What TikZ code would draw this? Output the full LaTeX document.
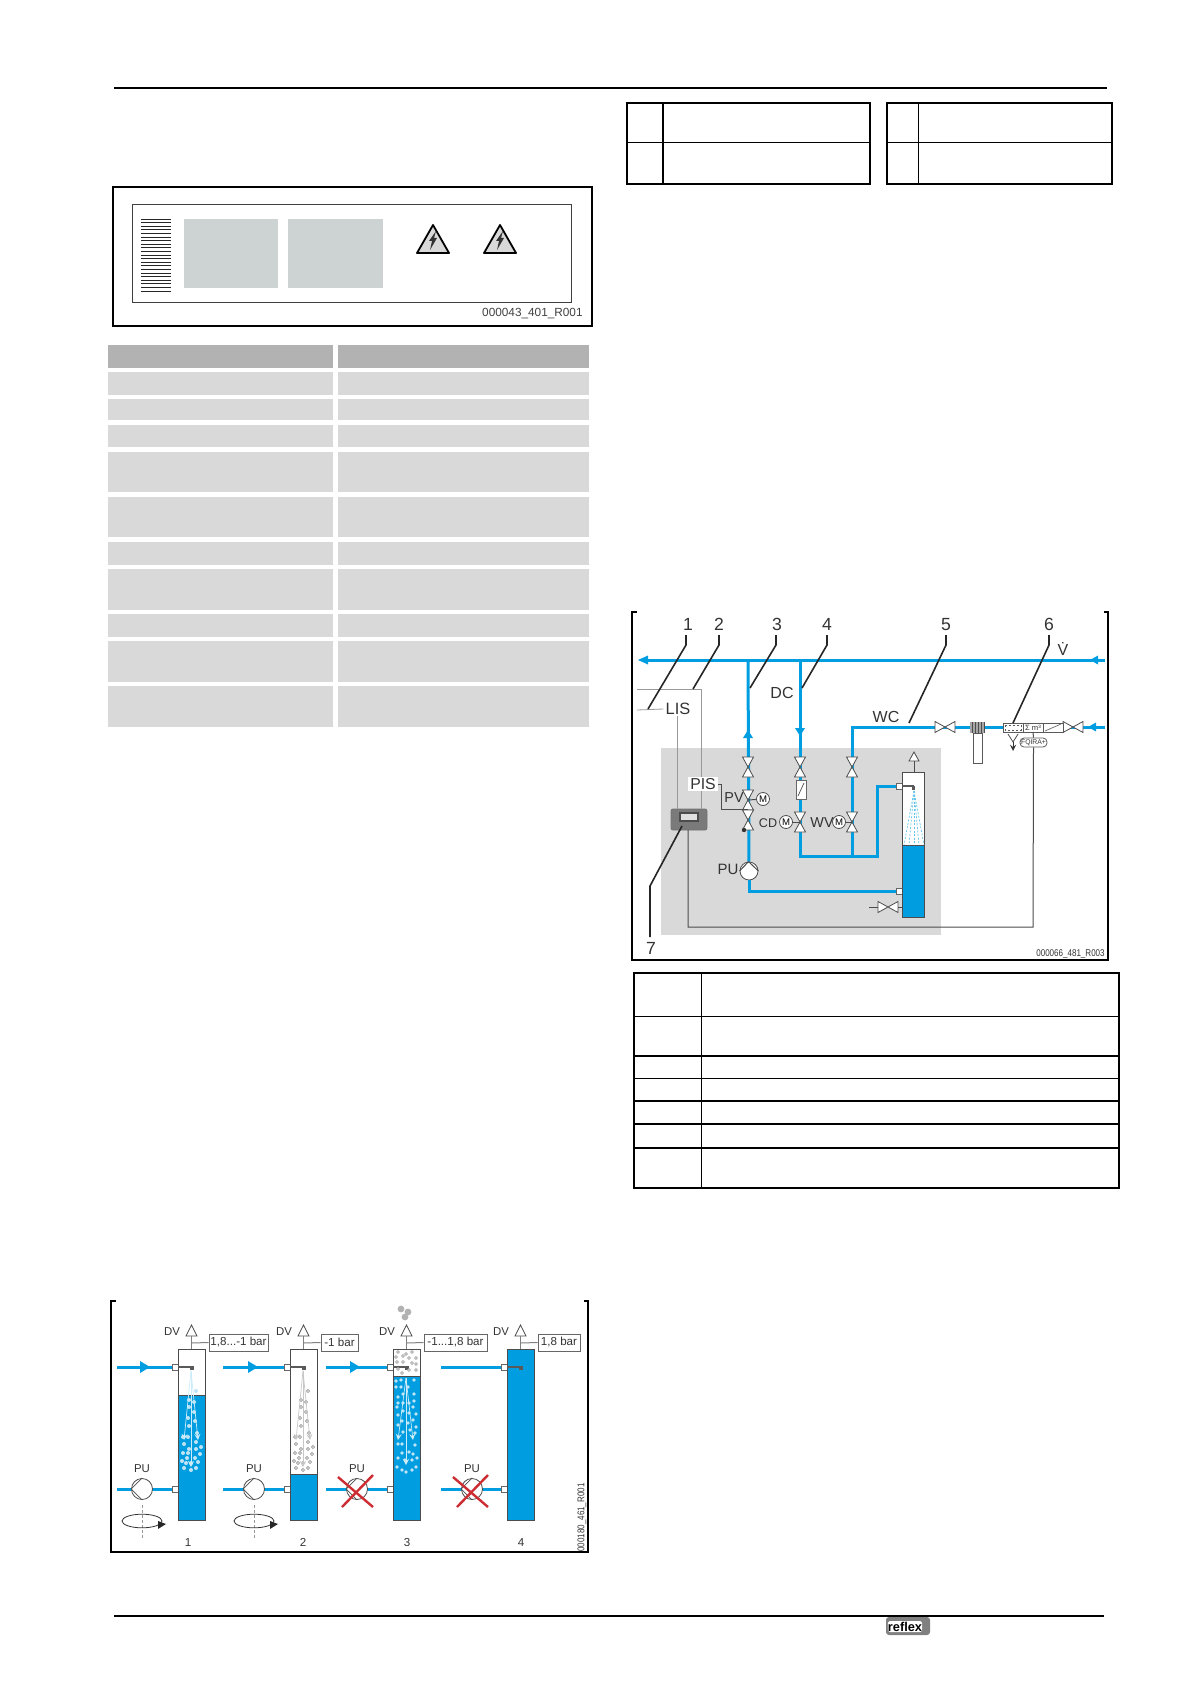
\documentclass[tikz,border=0pt]{standalone}
\usepackage{fontspec}
\setmainfont{Liberation Sans}
\usetikzlibrary{positioning, arrows}
\definecolor{pipeblue}{RGB}{0,158,224}
\definecolor{bggray}{RGB}{217,217,217}
\definecolor{headgray}{RGB}{178,178,178}
\definecolor{labelgray}{RGB}{205,210,210}
\definecolor{crossred}{RGB}{205,45,50}
\definecolor{bubblelight}{RGB}{190,228,245}
\newcommand{\fsz}[1]{\fontsize{#1}{#1}\selectfont}
\newcommand{\vvalve}[3]{\coordinate (#1) at (#2,#3);
	\filldraw[valve] (#2-5.5,#3-10) -- (#2+5.5,#3-10) -- (#2-5.5,#3+10) -- (#2+5.5,#3+10) -- cycle;}
\newcommand{\hvalve}[3]{\coordinate (#1) at (#2,#3);
	\filldraw[valve] (#2-10,#3-5.5) -- (#2-10,#3+5.5) -- (#2+10,#3-5.5) -- (#2+10,#3+5.5) -- cycle;}
\newcommand{\warnsign}[1]{\filldraw[fill=bggray, draw=black, line width=.9pt, line join=round] (#1,225) -- (#1+16,253) -- (#1-16,253) -- cycle;
	\fill[black!80] (#1+3,231) -- (#1-4,241) -- (#1-1,241) -- (#1-3,250) -- (#1+4,238) -- (#1+1,238) -- cycle;}
\newcommand{\bubblelist}{196/1391,189/1400,194/1402,189/1407,194/1412,188/1418,195/1421,189/1426,183/1437,188/1437,197/1433,196/1442,184/1444,189/1449,201/1447,196/1449,188/1453,183/1453,200/1454,195/1458,187/1458,182/1461,186/1463,191/1463,198/1462,184/1468,191/1470,196/1468}
\tikzset{
	frameline/.style={line width=1pt, black},
	rowcell/.style={fill=bggray},
	headcell/.style={fill=headgray},
	tableline/.style={line width=.5pt, black},
	tablethick/.style={line width=1.1pt, black},
	pipe/.style={draw=pipeblue, line width=1.5pt},
	valve/.style={fill=white, draw=black!70, line width=.4pt, line join=miter},
	leadline/.style={line width=.8pt, black!85},
	lightline/.style={line width=.4pt, black!40},
	darkline/.style={line width=.5pt, black!70},
	vessel/.style={draw=black!70, line width=.5pt},
	tag/.style={inner sep=0pt, text=black!80},
	motor/.style={circle, draw=black!70, fill=white, line width=.4pt, inner sep=0pt, minimum size=6.5pt, font=\fsz{4.8}},
	pumpnode/.style={circle, draw=black!70, fill=white, line width=.4pt, inner sep=0pt},
	pressbox/.style={draw=black!60, fill=white, line width=.5pt, inner sep=0pt, minimum height=8.5pt, font=\fsz{5.8}, text=black!80},
	stubbox/.style={draw=black!60, fill=white, line width=.4pt},
	bubblew/.style={fill=bubblelight},
	bubbleg/.style={fill=black!22, draw=black!35, line width=.2pt},
	sprayarrow/.style={->, >=stealth, line width=.35pt},
	crossline/.style={crossred, line width=1.2pt},
	stamp/.style={inner sep=0pt, text=black!80, font=\fsz{4.9}, xscale=.82}
}
\begin{document}
\begin{tikzpicture}[x=.5pt, y=-.5pt]
\useasboundingbox (0,0) rectangle (1191,1685);
% page rules
\draw[frameline] (114,88) -- (1107,88);
\draw[frameline] (114,1616) -- (1104,1616);
% rating plate
\draw[line width=.65pt, black] (113,187) rectangle (592,326);
\draw[line width=.5pt, black!75] (132,205) rectangle (571,302);
\foreach \n in {0,...,20}
	\draw[line width=.45pt, black!85] (141,219+3.6*\n) -- (171,219+3.6*\n);
\fill[labelgray] (184,219) rectangle (278,288);
\fill[labelgray] (288,219) rectangle (383,288);
\warnsign{433}
\warnsign{500}
\node[inner sep=0pt, text=black!75, font=\fsz{5.9}, anchor=east] (plateno) at (583,314) {000043\_401\_R001};
% data table
\foreach \ya/\yb in {372/395,399/420,425/447,452/492,497/537,542/565,569/610,614/637,641/682,686/727} {
	\fill[rowcell] (108,\ya) rectangle (333,\yb);
	\fill[rowcell] (338,\ya) rectangle (589,\yb);
}
\fill[headcell] (108,345) rectangle (333,368);
\fill[headcell] (338,345) rectangle (589,368);
% small tables top right
\draw[tablethick] (627,103) rectangle (870,184);
\draw[tableline] (627,143) -- (870,143);
\draw[tablethick] (663,103) -- (663,184);
\draw[tablethick] (887,103) rectangle (1112,184);
\draw[tableline] (887,143) -- (1112,143);
\draw[tableline] (918,103) -- (918,184);
% legend table
\draw[line width=.6pt, black] (634,973) rectangle (1119,1188);
\draw[tableline] (701,973) -- (701,1188);
\foreach \y in {1016,1078}
	\draw[tableline] (634,\y) -- (1119,\y);
\foreach \y in {1056,1101,1124,1148}
	\draw[line width=.9pt, black] (634,\y) -- (1119,\y);
% schematic
\draw[frameline] (637,612) -- (632,612) -- (632,960) -- (1108,960) -- (1108,612) -- (1104,612);
\fill[bggray] (661,748) rectangle (941,935);
\node[tag, font=\fsz{8.8}] (num1) at (688,624) {1};
\node[tag, font=\fsz{8.8}] (num2) at (719,624) {2};
\node[tag, font=\fsz{8.8}] (num3) at (777,624) {3};
\node[tag, font=\fsz{8.8}] (num4) at (827,624) {4};
\node[tag, font=\fsz{8.8}] (num5) at (946,624.5) {5};
\node[tag, font=\fsz{8.8}] (num6) at (1049,624.5) {6};
\node[tag, font=\fsz{8.8}] (num7) at (651,948) {7};
\coordinate (mainL) at (645,660);
\coordinate (mainR) at (1105,660);
\coordinate (upT) at (748,660);
\coordinate (dnT) at (800,660);
\coordinate (wcT) at (852,727);
\coordinate (wcR) at (1105,727);
\coordinate (wcB) at (852,856);
\coordinate (spB) at (800,856);
\coordinate (spC) at (877,856);
\node[stubbox, inner sep=0pt, minimum width=2.8pt, minimum height=3pt] (portT) at (899.5,786.5) {};
\node[stubbox, inner sep=0pt, minimum width=2.8pt, minimum height=3pt] (portB) at (899.5,891) {};
\node[pumpnode, minimum size=9pt] (pu) at (749,871) {};
\draw[pipe] (mainL) -- (mainR);
\draw[pipe] (upT) -- (pu);
\draw[pipe] (pu.south) |- (portB);
\draw[pipe] (dnT) -- (spB) -- (spC) |- (portT);
\draw[pipe] (wcB) -- (wcT) -- (wcR);
\fill[pipeblue] (638,660) -- (648,655.5) -- (648,664.5) -- cycle;
\fill[pipeblue] (1090,660) -- (1098,655.5) -- (1098,664.5) -- cycle;
\fill[pipeblue] (1088,727) -- (1096,722.5) -- (1096,731.5) -- cycle;
\fill[pipeblue] (748,730) -- (753,738) -- (743,738) -- cycle;
\fill[pipeblue] (800,736) -- (805,728) -- (795,728) -- cycle;
\draw[darkline] (pu.north) ++(-.5,0) -- (pu.west);
\draw[darkline] (pu.north) ++(-.5,0) -- (pu.east);
% valves
\vvalve{vUpA}{748}{767}
\vvalve{vUpB}{748}{800}
\vvalve{vUpC}{748}{820}
\vvalve{vDnA}{800}{767}
\vvalve{vDnB}{800}{822}
\vvalve{vWcA}{852}{767}
\vvalve{vWcB}{852}{822}
\hvalve{vDrain}{888}{907}
\hvalve{vWcC}{945}{727}
\hvalve{vIn}{1073}{727}
\fill[black!80] (744,830) circle[radius=1.1pt];
\filldraw[fill=white, draw=black!60, line width=.4pt] (796,780) rectangle (806,799);
\draw[line width=.35pt, black!70] (798,796) -- (804,783);
\node[motor] (mPV) at (763,799) {M};
\node[motor] (mCD) at (786,822) {M};
\node[motor] (mWV) at (839,822) {M};
\draw[darkline] (mPV) -- (vUpB);
\draw[darkline] (mCD) -- (vDnB);
\draw[darkline] (mWV) -- (vWcB);
% vessel
\filldraw[fill=white, vessel] (902,772) rectangle (924,917);
\filldraw[fill=pipeblue, vessel] (902,845) rectangle (924,917);
\filldraw[fill=white, draw=black!70, line width=.4pt] (914,752) -- (919,761) -- (909,761) -- cycle;
\draw[darkline] (914,761) -- (914,772);
\draw[line width=.9pt, black!65] (902,786) -- (914,786);
\fill[black!65] (912,786) rectangle (915,790);
\foreach \xb in {904,909,914,919,924}
	\draw[pipeblue!60, line width=.35pt, dash pattern=on 1pt off .8pt] (914,791) -- (\xb,845);
\draw[darkline] (869,907) -- (878,907);
\draw[darkline] (898,907) -- (902,907);
% control unit
\node[draw=black!55, fill=black!52, rounded corners=1pt, inner sep=0pt, minimum width=18pt, minimum height=10.5pt] (ctrl) at (689,819.5) {};
\node[draw=black!70, fill=black!12, line width=.6pt, inner sep=0pt, minimum width=9pt, minimum height=4pt] (display) at (689,817) {};
% instruments
\coordinate (sensA) at (637,710);
\coordinate (sensB) at (637,689);
\coordinate (ctrlB) at (701,809);
\coordinate (ctrlC) at (688,830);
\coordinate (pisV) at (748,809);
\node[tag, fill=white, font=\fsz{8.2}, inner xsep=1pt, inner ysep=.5pt] (lis) at (678,709) {LIS};
\draw[lightline] (sensA) -- (lis.west);
\draw[lightline] (lis.south) ++(-1,0) -- (ctrl.north -| 677,0);
\draw[lightline] (sensB) -| (ctrlB);
\node[tag, fill=white, font=\fsz{7.9}, inner xsep=1pt, inner ysep=.5pt] (pis) at (703,784) {PIS};
\draw[darkline] (pis.east) -| (721,809) -- (pisV);
\node[tag, font=\fsz{7.2}] (pv) at (734,798) {PV};
\node[tag, font=\fsz{6.3}] (cd) at (768,823) {CD};
\node[tag, font=\fsz{7.2}] (wv) at (822,823) {WV};
\node[tag, font=\fsz{7.5}] (pulabel) at (728,869) {PU};
\node[tag, font=\fsz{8}] (dc) at (782,693) {DC};
\node[tag, font=\fsz{8}] (wc) at (886,717) {WC};
\node[tag, font=\fsz{8}] (flow) at (1063,649) {\.{V}};
% meter train
\fill[black!35] (970,722) rectangle (985,733);
\foreach \x in {972,975,...,984}
	\draw[line width=.3pt, black!70] (\x,722) -- (\x,733);
\filldraw[fill=white, draw=black!65, line width=.4pt] (973,733) rectangle (982,763);
\filldraw[fill=white, draw=black!65, line width=.5pt] (1003,723) rectangle (1063,732);
\draw[line width=.5pt, black!65] (1023,723) -- (1023,732);
\draw[line width=.5pt, black!65] (1043,723) -- (1043,732);
\draw[line width=.3pt, black!65, dash pattern=on 1pt off 1pt] (1005,725) rectangle (1021,730);
\draw[line width=.3pt, black!65] (1045,731) -- (1061,724);
\node[tag, font=\fsz{3.8}] (sumq) at (1033,727.5) {Σ m³};
\draw[line width=.4pt, black!70] (1008,734) -- (1013,742) -- (1018,734);
\draw[->, >=stealth, line width=.4pt, black!80] (1013,742) -- (1013,751);
\node[draw=black!65, fill=white, rounded corners=2pt, line width=.4pt, inner sep=0pt, minimum width=13.5pt, minimum height=4.5pt, font=\fsz{3.4}, text=black!80] (fqira) at (1033.5,742.5) {FQIRA+};
\draw[darkline] (1033,732) -- (fqira.north);
\draw[darkline] (ctrlC) |- (1033,927) -- (fqira.south);
% lead lines
\coordinate (tip1) at (648,709);
\coordinate (tip2) at (693,689);
\coordinate (tip3) at (750,688);
\coordinate (tip4) at (802,688);
\coordinate (tip5) at (909,723);
\coordinate (tip6) at (1013,723);
\coordinate (tip7) at (682,826);
\draw[leadline] (686,635) -- (686,645) -- (tip1);
\draw[leadline] (719,635) -- (719,645) -- (tip2);
\draw[leadline] (776,635) -- (776,645) -- (tip3);
\draw[leadline] (827,635) -- (827,645) -- (tip4);
\draw[leadline] (946,635) -- (946,645) -- (tip5);
\draw[leadline] (1049,635) -- (1049,645) -- (tip6);
\draw[leadline] (650,937) -- (650,886) -- (tip7);
\node[stamp, anchor=east] (schemno) at (1105,954) {000066\_481\_R003};
% operating modes
\draw[frameline] (116,1301) -- (111,1301) -- (111,1552) -- (588,1552) -- (588,1301) -- (584,1301);
\foreach \vx/\wt/\px/\ix/\bx/\bw/\bt in {178/1395/142/117/238.5/29.5/{1,8...-1 bar},290/1474/254/223/339.5/18.5/{-1 bar},393/1376/357/326/455.5/31.5/{-1...1,8 bar},507/1349/472/441/559/21/{1,8 bar}} {
	\node[pressbox, minimum width=\bw pt] (press\vx) at (\bx,1342.5) {\bt};
	\draw[pipe] (\ix,1367) -- (\vx-6,1367);
	\draw[pipe] (\ix,1489) -- (\vx-6,1489);
	\filldraw[stubbox] (\vx-6,1364) rectangle (\vx,1370);
	\filldraw[stubbox] (\vx-6,1486) rectangle (\vx,1492);
	\filldraw[fill=white, vessel] (\vx,1349) rectangle (\vx+27,1520);
	\filldraw[fill=pipeblue, vessel] (\vx,\wt) rectangle (\vx+27,1520);
	\filldraw[fill=white, draw=black!70, line width=.4pt] (\vx+13.5,1325) -- (\vx+19,1336) -- (\vx+8,1336) -- cycle;
	\draw[line width=.5pt, black!50] (\vx+13.5,1336) -- (\vx+13.5,1349);
	\draw[line width=.5pt, black!50] (\vx+13.5,1343) -- (press\vx.west);
	\node[tag, font=\fsz{5.7}] (dv\vx) at (\vx-6,1332) {DV};
	\node[tag, font=\fsz{5.7}] (pu\vx) at (\px,1469) {PU};
	\node[pumpnode, minimum size=10.5pt] (pump\vx) at (\px,1489) {};
	\draw[line width=.4pt, black!70] (pump\vx.west) -- (pump\vx.north);
	\draw[line width=.4pt, black!70] (pump\vx.west) -- (pump\vx.south);
	\draw[line width=.8pt, black!65] (\vx,1367) -- (\vx+13,1367);
	\fill[black!65] (\vx+12,1366) rectangle (\vx+15.5,1370);
}
\foreach \ax in {140,248,350}
	\fill[pipeblue] (\ax,1361) -- (\ax+10,1367) -- (\ax,1373) -- cycle;
\foreach \px in {142,254} {
	\draw[line width=.4pt, black!40, dash pattern=on 1.5pt off 1pt] (\px,1505) -- (\px,1538);
	\draw[line width=.4pt, black!80] (\px,1521) ellipse[x radius=10pt, y radius=3.4pt];
	\fill[black!85] (\px+24,1524) -- (\px+16,1521) -- (\px+16,1529) -- cycle;
}
% spray and bubbles
\foreach \xb/\yb in \bubblelist
	\fill[bubblew] (\xb,\yb) circle[radius=1pt];
\foreach \xb/\yb in {184/1440,191/1467,198/1440}
	\draw[sprayarrow, draw=white!80!pipeblue] (191,1371) -- (\xb,\yb);
\foreach \xb/\yb in \bubblelist
	\filldraw[bubbleg] (\xb+112,\yb) circle[radius=.9pt];
\foreach \xb/\yb in {296/1440,303/1467,310/1440}
	\draw[sprayarrow, draw=black!22] (303,1371) -- (\xb,\yb);
\foreach \xb/\yb in {396/1381,401/1380,414/1380,396/1387,401/1387,408/1387,414/1394,398/1397,403/1394,414/1401,398/1403,403/1403,409/1403,413/1407,397/1407,403/1411,416/1414,398/1415,409/1413,413/1420,402/1421,398/1425,408/1423,416/1427,403/1432,415/1433,410/1430,402/1444,398/1444,415/1445,402/1453,409/1452,413/1454,398/1458,405/1460,417/1458,412/1460,397/1467,402/1470,406/1472,412/1470,416/1467}
	\fill[bubblew] (\xb,\yb) circle[radius=.9pt];
\foreach \xb/\yb in {398/1352,406/1354,412/1352,396/1357,403/1356,409/1358,416/1358,397/1362,403/1362,412/1363,416/1364,398/1369,409/1370,416/1370,402/1373}
	\filldraw[bubbleg] (\xb,\yb) circle[radius=.8pt];
\foreach \xb/\yb in {398/1440,406/1465,413/1440}
	\draw[sprayarrow, draw=white!80!pipeblue] (406,1378) -- (\xb,\yb);
\foreach \xb/\yb in {401/1309,405/1317,408/1312}
	\fill[black!30] (\xb,\yb) circle[radius=1.7pt];
% stopped pumps
\foreach \px in {357,472} {
	\draw[crossline] (\px-19,1477) -- (\px+16,1507);
	\draw[crossline] (\px-15,1507) -- (\px+16,1475);
}
\node[tag, font=\fsz{5.8}] (m1) at (188,1542) {1};
\node[tag, font=\fsz{5.8}] (m2) at (303,1542) {2};
\node[tag, font=\fsz{5.8}] (m3) at (407,1542) {3};
\node[tag, font=\fsz{5.8}] (m4) at (521,1542) {4};
\node[rotate=90, stamp, anchor=west] (modeno) at (582,1552) {000180\_461\_R001};
% logo
\node[fill=black!50, rounded corners=1.5pt, inner sep=0pt, minimum width=22pt, minimum height=9pt] (logo) at (908,1626) {};
\node[fill=white, rounded corners=.8pt, inner sep=0pt, minimum width=17pt, minimum height=5.5pt, font=\fsz{6.4}\bfseries, text=black] (logotext) at (905,1626.5) {reflex};
\end{tikzpicture}
\end{document}
